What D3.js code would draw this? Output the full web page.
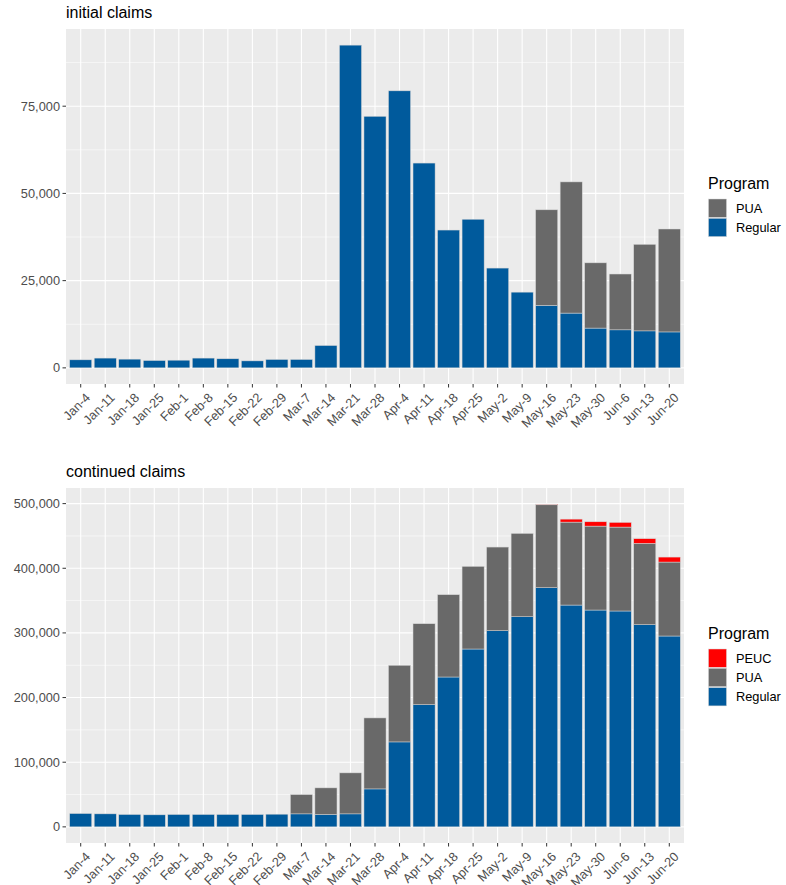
<!DOCTYPE html>
<html>
<head>
<meta charset="utf-8">
<script src="https://cdn.jsdelivr.net/npm/d3@7"></script>
<style>
  body { margin: 0; background: #fff; }
  svg { font-family: "Liberation Sans", Arial, sans-serif; }
</style>
</head>
<body>
<div id="chart"></div>
<script>
const weeks = ["Jan-4","Jan-11","Jan-18","Jan-25","Feb-1","Feb-8","Feb-15","Feb-22","Feb-29",
  "Mar-7","Mar-14","Mar-21","Mar-28","Apr-4","Apr-11","Apr-18","Apr-25","May-2","May-9",
  "May-16","May-23","May-30","Jun-6","Jun-13","Jun-20"];

const initialRegular = [2300, 2800, 2500, 2100, 2200, 2800, 2600, 2000, 2400, 2400, 6400,
  92500, 72100, 79400, 58700, 39500, 42600, 28600, 21700, 17900, 15700, 11400, 10900, 10600, 10300];
const initialPUA = [0, 0, 0, 0, 0, 0, 0, 0, 0, 0, 0, 0, 0, 0, 0, 0, 0, 0, 0,
  27400, 37600, 18700, 16000, 24800, 29500];

const continuedRegular = [20600, 20100, 19100, 18600, 19100, 19100, 19100, 19100, 19600,
  20100, 19100, 20100, 58700, 131400, 189000, 231800, 275100, 303400, 325000,
  369900, 343100, 335400, 333900, 312700, 295200];
const continuedPUA = [0, 0, 0, 0, 0, 0, 0, 0, 0,
  29800, 41200, 63400, 109800, 118500, 125200, 127300, 127800, 129400, 128900,
  128300, 128300, 129800, 129800, 125800, 114400];
const continuedPEUC = [0, 0, 0, 0, 0, 0, 0, 0, 0, 0, 0, 0, 0, 0, 0, 0, 0, 0, 0,
  1000, 4600, 6700, 7200, 7200, 7700];

const initialTicks = [0, 25000, 50000, 75000];
const continuedTicks = [0, 100000, 200000, 300000, 400000, 500000];

const colors = { Regular: "#005A9C", PUA: "#696969", PEUC: "#FF0000" };

const width = 786, height = 885;
const svg = d3.select("#chart").append("svg")
  .attr("width", width)
  .attr("height", height);

const fmt = d3.format(",");

function drawPanel(opts) {
  const { top, bottom, title, series, keys, ticks, legendTop } = opts;
  const left = 66, right = 684;

  const rows = weeks.map((w, i) => {
    const r = { week: w };
    keys.forEach(k => r[k] = series[k][i]);
    return r;
  });
  const stacked = d3.stack().keys(keys)(rows);
  const maxVal = d3.max(stacked[stacked.length - 1], d => d[1]);
  const pad = maxVal * 0.05;

  const x = d3.scaleBand()
    .domain(weeks)
    .range([left, right])
    .paddingInner(0.1)
    .paddingOuter(0.15);

  const y = d3.scaleLinear()
    .domain([-pad, maxVal + pad])
    .range([bottom, top]);

  const g = svg.append("g");

  // panel background
  g.append("rect")
    .attr("x", left).attr("y", top)
    .attr("width", right - left).attr("height", bottom - top)
    .attr("fill", "#EBEBEB");

  // minor grid
  const step = ticks[1] - ticks[0];
  const minor = ticks.map(t => t + step / 2).filter(t => y(t) > top);
  g.selectAll(".minor").data(minor).enter().append("line")
    .attr("x1", left).attr("x2", right)
    .attr("y1", d => y(d)).attr("y2", d => y(d))
    .attr("stroke", "#fff").attr("stroke-width", 0.55);

  // major grid
  g.selectAll(".hmajor").data(ticks).enter().append("line")
    .attr("x1", left).attr("x2", right)
    .attr("y1", d => y(d)).attr("y2", d => y(d))
    .attr("stroke", "#fff").attr("stroke-width", 1.1);
  g.selectAll(".vmajor").data(weeks).enter().append("line")
    .attr("x1", d => x(d) + x.bandwidth() / 2).attr("x2", d => x(d) + x.bandwidth() / 2)
    .attr("y1", top).attr("y2", bottom)
    .attr("stroke", "#fff").attr("stroke-width", 1.1);

  // bars
  stacked.forEach(layer => {
    g.append("g").selectAll("rect")
      .data(layer.filter(d => d[1] - d[0] > 0))
      .enter().append("rect")
      .attr("x", d => x(d.data.week))
      .attr("width", x.bandwidth())
      .attr("y", d => y(d[1]))
      .attr("height", d => y(d[0]) - y(d[1]))
      .attr("fill", colors[layer.key])
      .attr("stroke", "#d6d6d6")
      .attr("stroke-width", 0.5);
  });

  // y axis
  const yAxis = g.append("g");
  yAxis.selectAll("line").data(ticks).enter().append("line")
    .attr("x1", left - 3.5).attr("x2", left)
    .attr("y1", d => y(d)).attr("y2", d => y(d))
    .attr("stroke", "#333").attr("stroke-width", 1);
  yAxis.selectAll("text").data(ticks).enter().append("text")
    .attr("x", left - 6)
    .attr("y", d => y(d))
    .attr("dy", "0.35em")
    .attr("text-anchor", "end")
    .attr("font-size", 12.8)
    .attr("fill", "#4D4D4D")
    .text(d => fmt(d));

  // x axis
  const xAxis = g.append("g");
  xAxis.selectAll("line").data(weeks).enter().append("line")
    .attr("x1", d => x(d) + x.bandwidth() / 2).attr("x2", d => x(d) + x.bandwidth() / 2)
    .attr("y1", bottom).attr("y2", bottom + 3.5)
    .attr("stroke", "#333").attr("stroke-width", 1);
  xAxis.selectAll("text").data(weeks).enter().append("text")
    .attr("transform", d => "translate(" + (x(d) + x.bandwidth() / 2 + 4) + "," + (bottom + 8) + ") rotate(-45)")
    .attr("dy", "0.7em")
    .attr("text-anchor", "end")
    .attr("font-size", 12.8)
    .attr("fill", "#4D4D4D")
    .text(d => d);

  // title
  g.append("text")
    .attr("x", left)
    .attr("y", top - 11)
    .attr("font-size", 16)
    .attr("fill", "#000")
    .text(title);

  // legend (reverse order like ggplot)
  const legend = g.append("g");
  legend.append("text")
    .attr("x", 708)
    .attr("y", legendTop)
    .attr("font-size", 16)
    .attr("fill", "#000")
    .text("Program");
  keys.slice().reverse().forEach((k, i) => {
    const ky = legendTop + 10 + i * 19.3;
    legend.append("rect")
      .attr("x", 708.5).attr("y", ky)
      .attr("width", 18).attr("height", 18.3)
      .attr("fill", colors[k])
      .attr("stroke", "#d6d6d6").attr("stroke-width", 0.5);
    legend.append("text")
      .attr("x", 736)
      .attr("y", ky + 9.2)
      .attr("dy", "0.35em")
      .attr("font-size", 12.8)
      .attr("fill", "#000")
      .text(k);
  });
}

drawPanel({
  top: 29, bottom: 384,
  title: "initial claims",
  series: { Regular: initialRegular, PUA: initialPUA },
  keys: ["Regular", "PUA"],
  ticks: initialTicks,
  legendTop: 189
});

drawPanel({
  top: 488, bottom: 843,
  title: "continued claims",
  series: { Regular: continuedRegular, PUA: continuedPUA, PEUC: continuedPEUC },
  keys: ["Regular", "PUA", "PEUC"],
  ticks: continuedTicks,
  legendTop: 639
});
</script>
</body>
</html>
